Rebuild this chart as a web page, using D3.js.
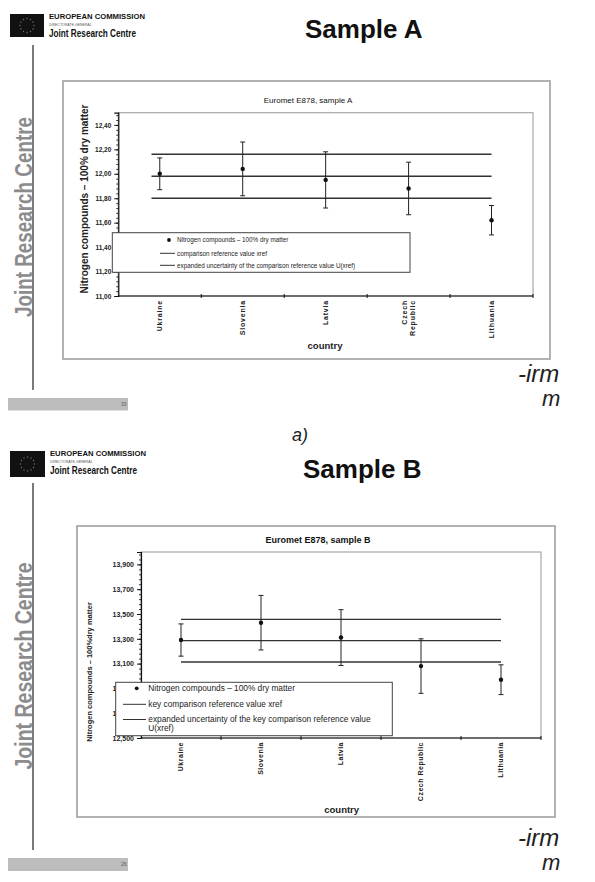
<!DOCTYPE html>
<html>
<head>
<meta charset="utf-8">
<script src="https://cdn.jsdelivr.net/npm/d3@7"></script>
<style>
  body { margin: 0; background: #fff; }
  text { font-family: "Liberation Sans", Arial, sans-serif; }
</style>
</head>
<body>
<svg id="page" width="595" height="882"></svg>
<script>
// Countries (same order on both charts)
const countries = ["Ukraine", "Slovenia", "Latvia", "Czech Republic", "Lithuania"];

// Sample A values and expanded uncertainties
const valuesA = [12.00, 12.04, 11.95, 11.88, 11.62];
const uncertA = [0.13, 0.22, 0.23, 0.215, 0.12];
const xrefA = 11.98;
const uxrefA = 0.18;
const yTicksA = [11.0, 11.2, 11.4, 11.6, 11.8, 12.0, 12.2, 12.4];
const catLabelsA = [["Ukraine"], ["Slovenia"], ["Latvia"], ["Czech", "Republic"], ["Lithuania"]];
const legendA = [
    ["Nitrogen compounds – 100% dry matter"],
    ["comparison reference value xref"],
    ["expanded uncertainty of the comparison reference value U(xref)"]
];

// Sample B values and expanded uncertainties
const valuesB = [13.29, 13.43, 13.31, 13.08, 12.97];
const uncertB = [0.13, 0.22, 0.225, 0.22, 0.12];
const xrefB = 13.285;
const uxrefB = 0.172;
const yTicksB = [12.5, 12.7, 12.9, 13.1, 13.3, 13.5, 13.7, 13.9];
const catLabelsB = [["Ukraine"], ["Slovenia"], ["Latvia"], ["Czech Republic"], ["Lithuania"]];
const legendB = [
    ["Nitrogen compounds – 100% dry matter"],
    ["key comparison reference value xref"],
    ["expanded uncertainty of the key comparison reference value", "U(xref)"]
];

const svg = d3.select("#page");

// Slide decorations: logo block, side text, rule, page bar, irm mark
function drawSlide(o) {
    const g = svg.append("g");

    // EU flag
    g.append("rect")
        .attr("x", o.flag[0]).attr("y", o.flag[1])
        .attr("width", o.flag[2]).attr("height", o.flag[3])
        .attr("fill", "#111");
    const cx = o.flag[0] + o.flag[2] / 2, cy = o.flag[1] + o.flag[3] / 2;
    g.selectAll(".star").data(d3.range(12)).enter()
        .append("circle")
        .attr("cx", i => cx + 7 * Math.cos(i * Math.PI / 6))
        .attr("cy", i => cy + 7 * Math.sin(i * Math.PI / 6))
        .attr("r", 0.7)
        .attr("fill", "#777");

    const tx = o.flag[0] + o.flag[2] + 5;
    g.append("text").attr("x", tx).attr("y", o.flag[1] + 5)
        .attr("font-size", 7.5).attr("font-weight", "bold").attr("fill", "#111")
        .attr("textLength", 96).attr("lengthAdjust", "spacingAndGlyphs")
        .text("EUROPEAN COMMISSION");
    g.append("text").attr("x", tx).attr("y", o.flag[1] + 11.5)
        .attr("font-size", 3.5).attr("fill", "#555")
        .text("DIRECTORATE-GENERAL");
    g.append("text").attr("x", tx).attr("y", o.flag[1] + 22.5)
        .attr("font-size", 10).attr("font-weight", "bold").attr("fill", "#111")
        .attr("textLength", 87).attr("lengthAdjust", "spacingAndGlyphs")
        .text("Joint Research Centre");

    // slide title
    g.append("text").attr("x", o.title[0]).attr("y", o.title[1])
        .attr("font-size", 26).attr("font-weight", "bold").attr("fill", "#111")
        .text(o.titleText);

    // vertical rule
    g.append("line")
        .attr("x1", 33).attr("x2", 33)
        .attr("y1", o.rule[0]).attr("y2", o.rule[1])
        .attr("stroke", "#333").attr("stroke-width", 1.3);

    // side text (condensed)
    g.append("text")
        .attr("transform", `translate(32,${o.side[0]})rotate(-90)`)
        .attr("text-anchor", "middle")
        .attr("font-size", 23).attr("font-weight", "bold").attr("fill", "#8c8c8c")
        .attr("textLength", o.side[1]).attr("lengthAdjust", "spacingAndGlyphs")
        .text("Joint Research Centre");

    // page bar
    g.append("rect")
        .attr("x", 8).attr("y", o.bar[0])
        .attr("width", 120).attr("height", o.bar[1] - o.bar[0])
        .attr("fill", "#bdbdbd");
    g.append("text").attr("x", 121).attr("y", o.bar[0] + 8)
        .attr("font-size", 5).attr("fill", "#555")
        .text(o.pageNo);

    // irm mark
    g.append("text").attr("x", o.irm[0]).attr("y", o.irm[1])
        .attr("font-family", "'DejaVu Serif', serif").attr("font-style", "italic")
        .attr("font-size", 24).attr("fill", "#222")
        .text("-irm");
    g.append("text").attr("x", o.irm[0] + 24).attr("y", o.irm[1] + 24)
        .attr("font-family", "'DejaVu Serif', serif").attr("font-style", "italic")
        .attr("font-size", 22).attr("fill", "#222")
        .text("m");
}

function drawChart(o) {
    const g = svg.append("g");
    const p = o.plot;

    // chart frame
    g.append("rect")
        .attr("x", o.box[0]).attr("y", o.box[1])
        .attr("width", o.box[2] - o.box[0]).attr("height", o.box[3] - o.box[1])
        .attr("fill", "#fff").attr("stroke", "#a0a0a0").attr("stroke-width", 1.6);

    const x = d3.scaleBand().domain(countries).range([p.left, p.right]);
    const y = d3.scaleLinear().domain(o.yDomain).range([p.bottom, p.top]);
    const bw = x.bandwidth();

    // plot area border
    g.append("rect")
        .attr("x", p.left).attr("y", p.top)
        .attr("width", p.right - p.left).attr("height", p.bottom - p.top)
        .attr("fill", "none").attr("stroke", "#a8a8a8").attr("stroke-width", 1.2);

    g.append("text")
        .attr("x", o.titlePos[0]).attr("y", o.titlePos[1])
        .attr("text-anchor", "middle")
        .attr("font-size", o.titleSize).attr("font-weight", o.titleWeight).attr("fill", "#111")
        .text(o.title);

    // y axis: minor then major ticks
    const minor = d3.range(o.yDomain[0], o.yDomain[1] + 1e-9, o.minorStep);
    g.append("g")
        .attr("transform", `translate(${p.left},0)`)
        .call(d3.axisLeft(y).tickValues(minor).tickSize(2).tickFormat(""))
        .call(a => a.select(".domain").remove())
        .selectAll("line").attr("stroke", "#333");

    const yAxis = g.append("g")
        .attr("transform", `translate(${p.left},0)`)
        .call(d3.axisLeft(y).tickValues(o.yTicks).tickSize(4).tickPadding(3)
            .tickFormat(d => d3.format(o.fmt)(d).replace(".", ",")));
    yAxis.select(".domain").attr("stroke", "#111").attr("stroke-width", 1.2);
    yAxis.selectAll("line").attr("stroke", "#111");
    yAxis.selectAll("text")
        .attr("font-size", o.tickSize).attr("font-weight", "bold")
        .attr("font-family", "'Liberation Sans', Arial, sans-serif").attr("fill", "#222");

    // x axis with ticks on category boundaries
    g.append("line")
        .attr("x1", p.left).attr("x2", p.right)
        .attr("y1", p.bottom).attr("y2", p.bottom)
        .attr("stroke", "#111").attr("stroke-width", 1.2);
    g.selectAll(".xtick").data(countries.slice(1).concat(["end"])).enter()
        .append("line")
        .attr("x1", d => d === "end" ? p.right : x(d))
        .attr("x2", d => d === "end" ? p.right : x(d))
        .attr("y1", p.bottom - 2).attr("y2", p.bottom + 2)
        .attr("stroke", "#111");

    // category labels
    const lab = g.selectAll(".cat").data(countries).enter()
        .append("text")
        .attr("transform", d => `translate(${x(d) + bw / 2},${o.labelY})rotate(-90)`)
        .attr("text-anchor", "end")
        .attr("font-size", o.labelSize).attr("font-weight", "bold")
        .attr("letter-spacing", o.labelSpacing).attr("fill", "#222");
    lab.each(function(d, i) {
        const lines = o.catLabels[i];
        const t = d3.select(this);
        lines.forEach((ln, j) => {
            t.append("tspan")
                .attr("x", 0)
                .attr("dy", j === 0 ? (0.35 - (lines.length - 1) * 0.6) + "em" : "1.2em")
                .text(ln);
        });
    });

    g.append("text")
        .attr("x", o.xTitle[0]).attr("y", o.xTitle[1])
        .attr("text-anchor", "middle")
        .attr("font-size", 9.5).attr("font-weight", "bold").attr("fill", "#222")
        .text("country");

    g.append("text")
        .attr("transform", `translate(${o.yTitle[0]},${o.yTitle[1]})rotate(-90)`)
        .attr("text-anchor", "middle")
        .attr("font-size", o.yTitleSize).attr("font-weight", "bold").attr("fill", "#222")
        .text(o.yTitleText);

    // reference value and its expanded uncertainty
    const x0 = x(countries[0]) + bw * o.refStart;
    const x1 = x(countries[countries.length - 1]) + bw / 2;
    g.selectAll(".ref").data([o.xref - o.uxref, o.xref, o.xref + o.uxref]).enter()
        .append("line")
        .attr("x1", x0).attr("x2", x1)
        .attr("y1", d => y(d)).attr("y2", d => y(d))
        .attr("stroke", "#333").attr("stroke-width", 1.3);

    // error bars
    const bars = g.selectAll(".err").data(countries).enter().append("g");
    bars.append("line")
        .attr("x1", d => x(d) + bw / 2).attr("x2", d => x(d) + bw / 2)
        .attr("y1", (d, i) => y(o.values[i] - o.uncert[i]))
        .attr("y2", (d, i) => y(o.values[i] + o.uncert[i]))
        .attr("stroke", "#222").attr("stroke-width", 1);
    [-1, 1].forEach(s => {
        bars.append("line")
            .attr("x1", d => x(d) + bw / 2 - 2.5).attr("x2", d => x(d) + bw / 2 + 2.5)
            .attr("y1", (d, i) => y(o.values[i] + s * o.uncert[i]))
            .attr("y2", (d, i) => y(o.values[i] + s * o.uncert[i]))
            .attr("stroke", "#222").attr("stroke-width", 1);
    });
    bars.append("circle")
        .attr("cx", d => x(d) + bw / 2)
        .attr("cy", (d, i) => y(o.values[i]))
        .attr("r", 2.2)
        .attr("fill", "#111");

    // legend
    const L = o.legend;
    g.append("rect")
        .attr("x", L.box[0]).attr("y", L.box[1])
        .attr("width", L.box[2] - L.box[0]).attr("height", L.box[3] - L.box[1])
        .attr("fill", "#fff").attr("stroke", "#444").attr("stroke-width", 1);
    g.append("circle")
        .attr("cx", L.marker).attr("cy", L.rows[0])
        .attr("r", 1.9).attr("fill", "#111");
    g.selectAll(".legline").data([1, 2]).enter()
        .append("line")
        .attr("x1", L.line[0]).attr("x2", L.line[1])
        .attr("y1", d => L.rows[d]).attr("y2", d => L.rows[d])
        .attr("stroke", "#333").attr("stroke-width", 1);
    o.legendText.forEach((lines, i) => {
        lines.forEach((ln, j) => {
            g.append("text")
                .attr("x", L.textX).attr("y", L.rows[i] + j * L.lineGap)
                .attr("dy", "0.35em")
                .attr("font-size", L.size).attr("fill", "#222")
                .text(ln);
        });
    });
}

drawSlide({
    flag: [10, 14, 34, 23], title: [305, 38], titleText: "Sample A",
    rule: [45, 390], side: [217, 200], bar: [398, 410.5], pageNo: "33", irm: [518, 382]
});
drawSlide({
    flag: [10, 451, 35, 26], title: [303, 478], titleText: "Sample B",
    rule: [483, 850], side: [666, 207], bar: [858, 871], pageNo: "26", irm: [518, 846]
});

svg.append("text")
    .attr("x", 292).attr("y", 441)
    .attr("font-family", "'Noto Sans', 'DejaVu Sans', sans-serif")
    .attr("font-style", "italic").attr("font-size", 18).attr("fill", "#222")
    .text("a)");

drawChart({
    box: [63, 81, 550, 359],
    plot: { left: 118.3, right: 533, top: 112.7, bottom: 296 },
    yDomain: [11.0, 12.5], yTicks: yTicksA, minorStep: 0.04, fmt: ".2f", tickSize: 6.5,
    title: "Euromet E878, sample A", titlePos: [308, 103], titleSize: 8, titleWeight: "normal",
    yTitle: [88, 199], yTitleSize: 10, yTitleText: "Nitrogen compounds – 100% dry matter",
    labelY: 300, labelSize: 7, labelSpacing: 0.8, catLabels: catLabelsA,
    xTitle: [325, 349],
    values: valuesA, uncert: uncertA, xref: xrefA, uxref: uxrefA, refStart: 0.4,
    legend: { box: [112.3, 232.7, 410, 272.3], rows: [240, 253.3, 265.3], marker: 169,
              line: [160, 175], textX: 177, size: 6.3, lineGap: 8 },
    legendText: legendA
});

drawChart({
    box: [77, 526, 555, 817],
    plot: { left: 141, right: 541, top: 552, bottom: 738 },
    yDomain: [12.5, 14.0], yTicks: yTicksB, minorStep: 0.04, fmt: ".3f", tickSize: 7,
    title: "Euromet E878, sample B", titlePos: [318, 543], titleSize: 9, titleWeight: 600,
    yTitle: [92, 672], yTitleSize: 7.5, yTitleText: "Nitrogen compounds – 100%dry matter",
    labelY: 742, labelSize: 7, labelSpacing: 0.5, catLabels: catLabelsB,
    xTitle: [341.7, 813],
    values: valuesB, uncert: uncertB, xref: xrefB, uxref: uxrefB, refStart: 0.5,
    legend: { box: [115.7, 682.3, 392.3, 735.7], rows: [688.3, 704.3, 719.5], marker: 136.7,
              line: [123, 146], textX: 148.3, size: 8.3, lineGap: 8.8 },
    legendText: legendB
});
</script>
</body>
</html>
